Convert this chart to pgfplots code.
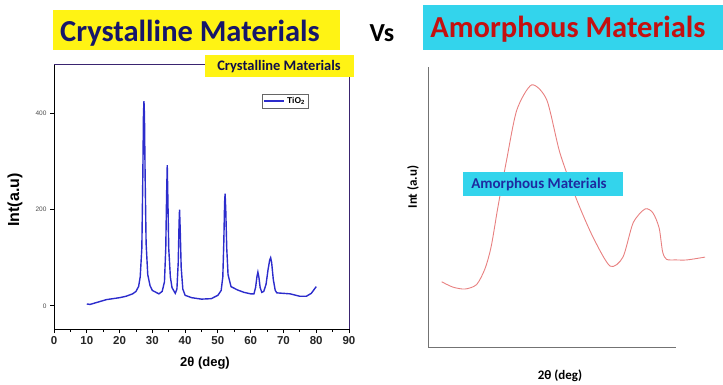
\documentclass[border=0pt]{standalone}
\usepackage{pgfplots}
\pgfplotsset{compat=1.18}
\usepackage{fontspec}
\setmainfont{Liberation Sans}
\newfontfamily\calib{Carlito}

\definecolor{ttlnavy}{HTML}{16166A}
\definecolor{hlyellow}{HTML}{FFF314}
\definecolor{hlcyan}{HTML}{33D4EC}
\definecolor{ttlred}{HTML}{C41010}
\definecolor{xrdblue}{HTML}{2C2CCC}
\definecolor{amred}{HTML}{E88080}
\definecolor{lblblue}{HTML}{1E2AA0}
\definecolor{framenavy}{HTML}{3A2470}

\newcommand{\fs}[1]{\fontsize{#1}{#1}\selectfont}

\begin{document}
\begin{tikzpicture}
\path[use as bounding box] (0pt,0pt) rectangle (723pt,-385pt);

% ---- headings ----
\fill[hlyellow] (53pt,-10pt) rectangle (340pt,-50pt);
\node[font=\calib\bfseries\fs{30.5}, text=ttlnavy, anchor=base, inner sep=0pt] at (190pt,-42pt) {Crystalline Materials};
\node[font=\calib\bfseries\fs{26}, text=black, anchor=base, inner sep=0pt] at (382pt,-42pt) {Vs};
\fill[hlcyan] (423pt,-5pt) rectangle (723pt,-50pt);
\node[font=\calib\bfseries\fs{30.5}, text=ttlred, anchor=base, inner sep=0pt] at (568pt,-38pt) {Amorphous Materials};

% ---- XRD pattern of TiO2 ----
\begin{axis}[
  scale only axis, width=295pt, height=264pt,
  at={(54pt,-329pt)}, anchor=south west,
  xmin=0, xmax=90, ymin=-48, ymax=500,
  xtick={0,10,...,90}, minor x tick num=1,
  ytick={0,200,400},
  xtick pos=bottom, ytick pos=left,
  tick align=outside, major tick length=4pt, minor tick length=2.5pt,
  tick style={black, line width=0.8pt},
  axis line style={line width=1pt},
  /pgf/number format/assume math mode=true,
  xticklabel style={font=\bfseries\fs{11.5}, text=black!85},
  yticklabel style={font=\fs{6.5}, text=black!70},
  legend style={at={(axis description cs:0.705,0.89)}, anchor=north west,
    font=\bfseries\fs{8.5}, draw=black!60, inner sep=1.2pt, row sep=0pt},
  clip=false,
]
\addplot[xrdblue, line width=1.4pt,
  legend image code/.code={\draw[xrdblue, line width=1.8pt] (0pt,0pt) -- (20pt,0pt);}]
 coordinates {
 (10,4) (11,3) (12,5) (14,9) (16,13) (18,15) (20,17) (22,20) (24,25)
 (25,30) (25.8,40) (26.3,60) (26.8,120) (27.1,270) (27.3,400) (27.45,425)
 (27.6,395) (27.8,270) (28.1,130) (28.6,65) (29.3,42) (30,32) (32,25)
 (33,30) (33.7,50) (34.1,120) (34.35,230) (34.55,292) (34.75,220)
 (35.0,120) (35.5,60) (36,38) (37,26) (37.5,35) (37.9,90) (38.15,170)
 (38.3,200) (38.5,160) (38.8,80) (39.3,35) (40,22) (42,17) (45,14)
 (48,15) (50,22) (51,32) (51.5,60) (51.8,130) (52.05,215) (52.2,233)
 (52.4,200) (52.7,120) (53.1,65) (54,40) (56,33) (58,28) (60,25) (61,25)
 (61.5,38) (61.9,60) (62.2,70) (62.5,60) (62.9,38) (63.4,28) (64,30)
 (64.7,45) (65.3,75) (65.8,95) (66.1,100) (66.4,90) (66.9,55) (67.5,32)
 (68,27) (70,26) (72,25) (75,20) (77,20) (78.5,26) (80,40)
};
\addlegendentry{TiO\textsubscript{2}}
\draw[framenavy, line width=1pt] (rel axis cs:0,1) -- (rel axis cs:1,1) -- (rel axis cs:1,0);
\end{axis}

\fill[hlyellow] (205pt,-55pt) rectangle (354pt,-77pt);
\node[font=\calib\bfseries\fs{14.5}, text=ttlnavy!70!black, anchor=base, inner sep=0pt] at (279pt,-71pt) {Crystalline Materials};
\node[rotate=90, font=\bfseries\fs{16}] at (15pt,-200pt) {Int(a.u)};
\node[font=\bfseries\fs{13}] at (205pt,-363pt) {2θ (deg)};

% ---- amorphous sketch ----
\begin{axis}[
  scale only axis, width=248pt, height=280pt,
  at={(428pt,-347pt)}, anchor=south west,
  xmin=0, xmax=100, ymin=0, ymax=100,
  axis x line*=bottom, axis y line*=left,
  ticks=none,
  axis line style={black!55, line width=1pt, -},
  clip=false,
]
\addplot[amred, line width=0.9pt, smooth, tension=0.45] coordinates {
 (5.5,23.3) (10,21.4) (14.9,20.7) (19.6,22.3) (23,28) (25.5,36)
 (28.2,50.0) (31.7,66.8) (35.8,84.6) (41.8,93.6) (47.9,88.2) (53.2,69.3)
 (60.0,52.5) (66.5,39.3) (73.4,28.9) (78.6,32.1) (82.7,44.3) (87.5,49.3)
 (90.7,47.9) (93.2,42.5) (94.6,34) (96.2,31.3) (100,31.1) (104.4,31.1)
 (111.7,32.1)
};
\end{axis}

\fill[hlcyan] (463pt,-172pt) rectangle (623pt,-196pt);
\node[font=\calib\bfseries\fs{15}, text=lblblue, anchor=base, inner sep=0pt] at (539pt,-189pt) {Amorphous Materials};
\node[rotate=90, font=\calib\bfseries\fs{13}] at (413pt,-187pt) {Int (a.u)};
\node[font=\calib\bfseries\fs{13}] at (560pt,-376pt) {2θ (deg)};
\end{tikzpicture}
\end{document}
